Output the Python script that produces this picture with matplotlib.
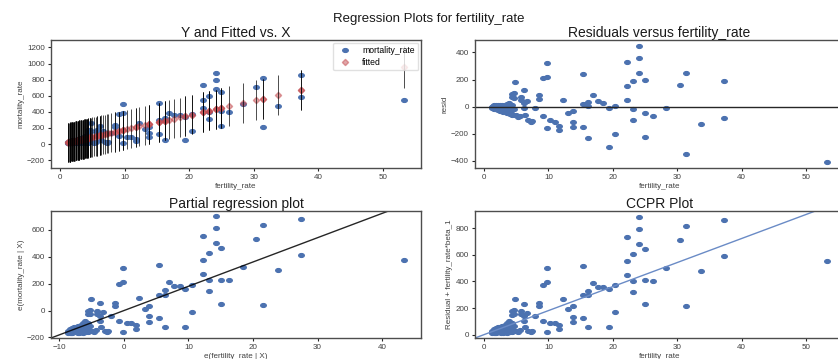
import numpy as np
import matplotlib
matplotlib.use("Agg")
import matplotlib.pyplot as plt
from matplotlib.path import Path
from matplotlib.transforms import Affine2D

# countries: fertility rate vs. child mortality rate
fertility_rate = [
    53.3, 37.3, 37.3, 33.7, 31.4, 31.4, 30.4, 28.3, 26.2, 25.0, 25.0, 25.0,
    24.1, 24.1, 24.1, 23.1, 23.1, 23.1, 22.2, 22.2, 22.2, 20.4, 20.4, 19.4,
    19.4, 18.5, 17.7, 16.9, 16.2, 16.2, 16.2, 15.3, 15.3, 15.3, 13.8, 13.8,
    13.8, 13.1, 12.3, 11.7, 11.7, 11.0, 10.3, 9.7, 9.7, 9.7, 9.1, 9.1,
    8.5, 8.5, 7.9, 7.5, 6.9, 6.7, 6.2, 6.2, 6.2, 5.7, 5.7, 4.8,
    4.3, 4.7, 4.3, 4.7, 6.4, 7.3,
    1.2, 1.3, 1.3, 1.4, 1.5, 1.5, 1.5, 1.6, 1.6, 1.7, 1.7, 1.8, 1.8,
    1.9, 1.9, 2.0, 2.0, 2.1, 2.1, 2.2, 2.2, 2.3, 2.4, 2.4, 2.5, 2.5, 2.5,
    2.6, 2.7, 2.7, 2.8, 2.8, 2.9, 3.0, 3.0, 3.0, 3.1, 3.2, 3.2, 3.3, 3.3,
    3.4, 3.5, 3.5, 3.6, 3.6, 3.7, 3.7, 3.8, 3.9, 3.9, 4.0, 4.0, 4.1,
    4.2, 4.2, 4.4, 4.4, 4.6, 4.6, 5.0, 5.3, 5.6,
]
mortality_rate = [
    551, 859, 589, 478, 815, 215, 707, 496, 401, 642, 405, 227,
    881, 791, 681, 600, 400, 317, 728, 548, 446, 368, 163, 336,
    52, 356, 358, 388, 325, 294, 55, 514, 294, 121, 211, 131,
    93, 186, 266, 68, 38, 85, 82, 494, 391, 16, 370, 95,
    234, 209, 133, 25, 22, 161, 228, 134, 97, 172, 149, 263,
    171, 179, 146, 149, 50, 17,
    12, 20, 8, 25, 15, 30, 10, 18, 40, 9, 28, 22, 35,
    11, 45, 16, 30, 24, 50, 13, 38, 20, 42, 17, 28, 55, 12,
    36, 10, 48, 25, 62, 14, 22, 45, 9, 58, 30, 12, 40, 70,
    26, 52, 11, 35, 80, 20, 60, 44, 95, 28, 18, 70, 38,
    55, 22, 16, 85, 20, 60, 25, 18, 30,
]

x = np.array(fertility_rate, dtype=float)
y = np.array(mortality_rate, dtype=float)
n = len(x)

# OLS mortality_rate ~ const + fertility_rate
beta, const = np.polyfit(x, y, 1)
fitted = const + beta * x
resid = y - fitted
s = np.sqrt(np.sum(resid ** 2) / (n - 2))
sxx = np.sum((x - x.mean()) ** 2)
pred_std = s * np.sqrt(1 + 1 / n + (x - x.mean()) ** 2 / sxx)
t_val = 1.979
iv_l = fitted - t_val * pred_std
iv_u = fitted + t_val * pred_std

blue = "#4C72B0"
red = "#C44E52"
txt = "0.15"
# the screenshot is squashed vertically, so the dots look like flat ellipses
dot = Path.unit_circle().transformed(Affine2D().scale(1.0, 0.68))
ms = 4.0

plt.rcParams["font.family"] = ["Liberation Sans", "DejaVu Sans"]
plt.rcParams["axes.edgecolor"] = "0.3"
plt.rcParams["axes.linewidth"] = 1.0
plt.rcParams["xtick.color"] = txt
plt.rcParams["ytick.color"] = txt

fig = plt.figure(figsize=(8.38, 3.59), dpi=100)
W, H = 838, 359


def add_ax(l, t, r, b):
    return fig.add_axes([l / W, 1 - b / H, (r - l) / W, (b - t) / H])


ax1 = add_ax(51, 40, 421, 168)
ax2 = add_ax(475, 40, 844, 168)
ax3 = add_ax(51, 211, 421, 338)
ax4 = add_ax(475, 211, 844, 338)

for ax in (ax1, ax2, ax3, ax4):
    ax.tick_params(labelsize=5.8, length=2.5, width=0.8, pad=2, labelcolor="0.25")

title_kw = dict(fontsize=10, pad=2.5, color="0.1")
lab_kw = dict(fontsize=5.8, color="0.25", labelpad=1.5)

# Y and fitted vs X
ax1.plot(x, y, marker=dot, linestyle="none", color=blue, markersize=ms, label="mortality_rate")
ax1.plot(x, fitted, marker="D", linestyle="none", color=red, alpha=0.5, markersize=3.2, label="fitted")
ax1.vlines(x, iv_l, iv_u, linewidth=0.7, color="k", alpha=0.7)
ax1.set_title("Y and Fitted vs. X", **title_kw)
ax1.set_ylabel("mortality_rate", **lab_kw)
ax1.set_xlabel("fertility_rate", **lab_kw)
ax1.set_yticks(np.arange(-200, 1201, 200))
ax1.legend(loc="upper right", fontsize=6.2, frameon=True, borderpad=0.4,
           handletextpad=1.0, labelspacing=0.35, fancybox=True, edgecolor="0.85",
           borderaxespad=0.3, framealpha=0.8)

# residuals versus x
ax2.plot(x, resid, marker=dot, linestyle="none", color=blue, markersize=ms)
ax2.axhline(0, color="0.15", linewidth=1.0)
ax2.set_title("Residuals versus fertility_rate", **title_kw)
ax2.set_ylabel("resid", **lab_kw)
ax2.set_xlabel("fertility_rate", **lab_kw)
ax2.set_yticks(np.arange(-400, 401, 200))

# partial regression (other exog is only the constant)
ex = x - x.mean()
ey = y - y.mean()
ax3.plot(ex, ey, marker=dot, linestyle="none", color=blue, markersize=ms)
ax3.set_xlim(ex.min() - 0.05 * np.ptp(ex), ex.max() + 0.05 * np.ptp(ex))
xl = np.array(ax3.get_xlim())
ax3.plot(xl, beta * xl, color="k", linewidth=1.0, alpha=0.85)
ax3.set_xlim(xl)
ax3.set_ylim(beta * xl[0], ey.max() + 0.04 * np.ptp(ey))
ax3.set_title("Partial regression plot", **title_kw)
ax3.set_ylabel("e(mortality_rate | X)", **lab_kw)
ax3.set_xlabel("e(fertility_rate | X)", **lab_kw)
ax3.set_yticks(np.arange(-200, 601, 200))

# CCPR
cc = resid + beta * x
ax4.plot(x, cc, marker=dot, linestyle="none", color=blue, markersize=ms)
ax4.set_xlim(x.min() - 0.05 * np.ptp(x), x.max() + 0.05 * np.ptp(x))
xl4 = np.array(ax4.get_xlim())
ax4.plot(xl4, beta * xl4, color="#6A8BC6", linewidth=1.0)
ax4.set_xlim(xl4)
ax4.set_ylim(beta * xl4[0], cc.max() + 0.05 * (cc.max() - beta * xl4[0]))
ax4.set_title("CCPR Plot", **title_kw)
ax4.set_ylabel("Residual + fertility_rate*beta_1", **lab_kw)
ax4.set_xlabel("fertility_rate", **lab_kw)
ax4.set_yticks(np.arange(0, 801, 200))

for ax in (ax1, ax2, ax4):
    ax.set_xticks(np.arange(0, 51, 10))

fig.suptitle("Regression Plots for fertility_rate", fontsize=9.5, x=0.512, y=0.965, color="0.1")

fig.savefig("out.png", dpi=100)
